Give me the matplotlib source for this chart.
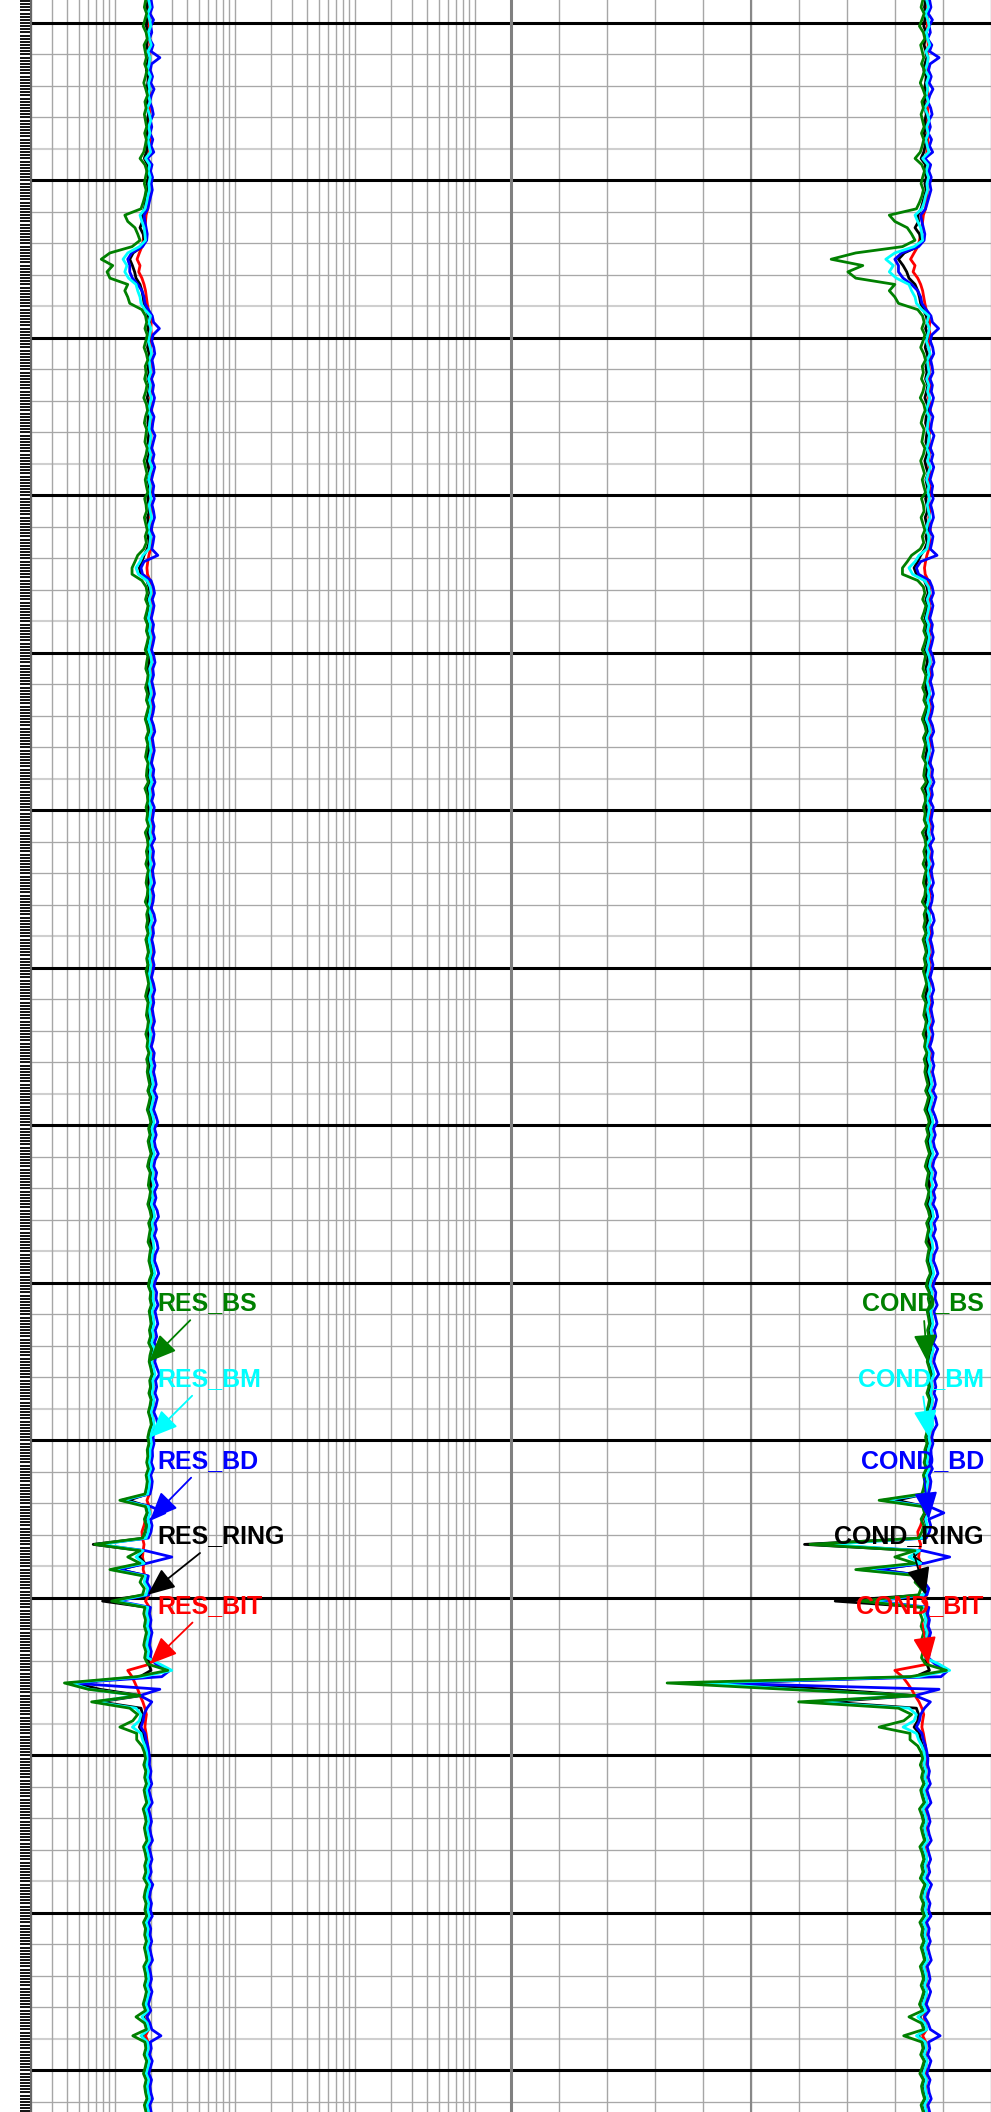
import numpy as np
import matplotlib
matplotlib.use("Agg")
import matplotlib.pyplot as plt
from matplotlib import font_manager
from matplotlib.ticker import LogLocator, NullFormatter

# depth samples, every 2 units
depth = np.arange(993, 1665, 2)

res_bs = np.array([
    180, 176, 184, 178, 172, 182, 186, 175, 179, 183,
    177, 185, 180, 174, 181, 187, 178, 182, 176, 180,
    184, 177, 183, 179, 174, 162, 178, 185, 180, 176,
    182, 178, 172, 165, 121, 128, 147, 155, 162, 139,
    91, 77, 96, 86, 91, 128, 121, 128, 133, 168,
    180, 184, 178, 186, 181, 175, 183, 188, 179, 182,
    177, 185, 181, 174, 183, 187, 180, 176, 184, 181,
    178, 186, 182, 175, 180, 185, 179, 183, 188, 177,
    182, 184, 176, 181, 186, 179, 183, 174, 155, 147,
    139, 139, 168, 182, 186, 180, 189, 184, 178, 187,
    183, 190, 185, 179, 188, 184, 181, 189, 186, 180,
    187, 183, 191, 185, 179, 186, 190, 182, 188, 184,
    180, 189, 185, 183, 190, 178, 186, 188, 182, 187,
    184, 191, 179, 186, 189, 183, 187, 181, 190, 185,
    182, 188, 186, 179, 190, 184, 187, 183, 189, 181,
    186, 190, 184, 188, 182, 187, 191, 185, 180, 189,
    186, 183, 190, 187, 181, 188, 185, 192, 184, 189,
    186, 190, 195, 188, 197, 192, 186, 194, 199, 191,
    196, 189, 194, 200, 192, 187, 197, 193, 190, 198,
    194, 188, 196, 201, 191, 197, 193, 189, 199, 195,
    192, 198, 203, 194, 190, 199, 196, 201, 193, 197,
    200, 194, 198, 191, 202, 196, 193, 199, 204, 195,
    198, 192, 200, 196, 190, 197, 201, 193, 188, 192,
    186, 188, 184, 190, 182, 186, 183, 178, 110, 180,
    185, 176, 183, 178, 170, 68, 162, 128, 162, 91,
    171, 162, 176, 170, 94, 178, 174, 180, 176, 183,
    178, 174, 181, 177, 188, 276, 152, 38, 60, 162,
    64, 133, 155, 141, 110, 152, 152, 168, 176, 180,
    174, 181, 177, 183, 175, 179, 184, 172, 178, 182,
    176, 180, 185, 173, 179, 183, 177, 181, 174, 186,
    179, 175, 182, 178, 184, 173, 180, 177, 183, 176,
    181, 185, 174, 179, 182, 176, 183, 178, 172, 180,
    150, 177, 183, 141, 178, 181, 175, 184, 179, 173,
    182, 177, 180, 185, 176, 181]) / 100

res_bm = np.array([
    192, 197, 188, 195, 199, 190, 194, 201, 189, 196,
    193, 187, 198, 191, 195, 190, 197, 186, 194, 199,
    191, 196, 189, 193, 198, 180, 195, 190, 197, 192,
    194, 188, 184, 178, 162, 168, 175, 178, 180, 160,
    128, 117, 126, 121, 130, 150, 155, 162, 165, 178,
    198, 192, 200, 195, 190, 197, 202, 193, 196, 199,
    191, 198, 194, 201, 196, 190, 199, 195, 193, 200,
    197, 192, 199, 194, 203, 196, 191, 198, 195, 200,
    193, 197, 202, 194, 190, 199, 196, 192, 171, 162,
    150, 157, 185, 197, 201, 193, 199, 195, 190, 198,
    194, 200, 196, 191, 199, 203, 195, 198, 192, 197,
    201, 194, 199, 196, 190, 198, 202, 193, 197, 200,
    195, 191, 199, 196, 203, 194, 198, 192, 200, 197,
    193, 199, 196, 202, 191, 198, 195, 200, 194, 197,
    201, 193, 198, 196, 190, 199, 203, 195, 198, 192,
    197, 200, 194, 199, 196, 191, 198, 202, 195, 199,
    193, 197, 201, 194, 199, 196, 190, 200, 197, 203,
    198, 204, 208, 200, 210, 205, 199, 207, 212, 203,
    208, 202, 206, 213, 204, 200, 209, 205, 211, 203,
    207, 201, 210, 214, 204, 208, 202, 209, 212, 205,
    203, 210, 215, 206, 201, 209, 207, 213, 204, 208,
    212, 205, 209, 202, 214, 207, 203, 210, 216, 206,
    209, 204, 211, 207, 200, 208, 212, 203, 198, 202,
    196, 196, 192, 199, 190, 195, 192, 188, 115, 190,
    196, 188, 193, 190, 182, 75, 172, 150, 175, 94,
    180, 175, 188, 182, 100, 188, 184, 190, 186, 193,
    188, 184, 191, 187, 237, 298, 170, 42, 62, 155,
    68, 150, 165, 160, 140, 165, 170, 178, 184, 186,
    184, 190, 186, 192, 183, 188, 193, 181, 187, 191,
    185, 189, 194, 182, 188, 192, 186, 190, 183, 195,
    188, 184, 191, 187, 193, 182, 189, 186, 192, 185,
    190, 194, 183, 188, 191, 185, 192, 187, 181, 189,
    168, 186, 192, 165, 187, 190, 184, 193, 188, 182,
    191, 186, 189, 194, 185, 190]) / 100

res_bd = np.array([
    201, 205, 196, 210, 199, 203, 194, 208, 200, 237,
    202, 197, 206, 199, 212, 201, 195, 204, 209, 198,
    203, 196, 207, 200, 211, 186, 204, 198, 206, 201,
    205, 199, 193, 188, 175, 178, 182, 186, 184, 170,
    138, 128, 133, 133, 140, 155, 168, 175, 178, 190,
    205, 210, 235, 208, 203, 211, 215, 204, 209, 212,
    202, 210, 206, 214, 208, 201, 212, 207, 204, 216,
    209, 203, 212, 206, 215, 208, 202, 211, 207, 213,
    204, 210, 214, 206, 201, 212, 208, 203, 228, 175,
    165, 170, 200, 209, 214, 205, 212, 207, 201, 210,
    206, 213, 208, 202, 211, 216, 207, 210, 203, 209,
    214, 206, 212, 208, 201, 210, 215, 205, 209, 213,
    207, 202, 211, 208, 216, 206, 210, 203, 213, 209,
    205, 212, 208, 215, 202, 210, 207, 213, 206, 209,
    214, 205, 211, 208, 201, 212, 217, 207, 210, 203,
    209, 213, 206, 212, 208, 202, 210, 215, 207, 211,
    205, 209, 214, 206, 212, 208, 201, 213, 209, 216,
    210, 216, 221, 212, 224, 217, 210, 220, 228, 214,
    221, 213, 218, 230, 216, 211, 223, 217, 226, 214,
    220, 212, 225, 231, 216, 222, 213, 224, 229, 217,
    214, 224, 232, 219, 212, 223, 220, 229, 216, 222,
    228, 217, 223, 213, 231, 220, 215, 224, 235, 218,
    223, 216, 226, 220, 211, 222, 228, 214, 208, 212,
    205, 206, 201, 210, 199, 205, 202, 196, 114, 200,
    261, 198, 204, 200, 190, 71, 180, 298, 185, 106,
    190, 185, 198, 192, 106, 198, 194, 200, 196, 204,
    198, 194, 201, 197, 220, 287, 246, 44, 237, 162,
    203, 185, 175, 172, 165, 178, 182, 188, 192, 195,
    194, 200, 196, 203, 192, 198, 205, 191, 197, 202,
    195, 199, 206, 193, 198, 204, 196, 201, 192, 207,
    198, 194, 202, 197, 205, 191, 199, 196, 203, 195,
    200, 206, 193, 198, 202, 195, 204, 197, 190, 199,
    185, 196, 203, 242, 197, 201, 194, 205, 198, 192,
    202, 196, 199, 206, 195, 200]) / 100

res_ring = np.array([
    188, 185, 191, 186, 183, 190, 187, 184, 189, 192,
    186, 183, 190, 188, 185, 191, 184, 187, 190, 186,
    189, 184, 191, 187, 183, 176, 188, 185, 190, 186,
    190, 185, 180, 176, 168, 170, 162, 172, 176, 168,
    142, 133, 140, 146, 150, 162, 168, 172, 175, 182,
    190, 194, 188, 195, 191, 187, 193, 196, 189, 192,
    188, 195, 191, 186, 193, 197, 190, 188, 194, 191,
    189, 195, 192, 186, 190, 196, 189, 193, 197, 188,
    192, 194, 187, 191, 196, 189, 193, 186, 175, 168,
    160, 165, 185, 192, 196, 189, 195, 191, 187, 194,
    190, 196, 192, 187, 195, 193, 189, 197, 191, 188,
    194, 191, 197, 190, 186, 193, 196, 189, 195, 192,
    188, 196, 192, 190, 197, 187, 193, 195, 189, 194,
    191, 197, 188, 193, 196, 190, 194, 189, 197, 192,
    189, 195, 193, 187, 196, 191, 194, 190, 196, 188,
    193, 197, 191, 195, 189, 194, 198, 192, 188, 196,
    193, 190, 197, 194, 188, 195, 192, 198, 191, 196,
    193, 197, 202, 195, 204, 199, 193, 201, 206, 198,
    203, 196, 200, 207, 199, 194, 204, 200, 197, 205,
    201, 195, 203, 208, 198, 204, 200, 196, 206, 202,
    199, 205, 209, 201, 197, 206, 203, 207, 200, 204,
    207, 201, 205, 198, 209, 203, 200, 206, 210, 202,
    205, 199, 207, 203, 197, 204, 208, 200, 195, 199,
    193, 194, 190, 197, 188, 193, 190, 186, 130, 188,
    194, 186, 191, 188, 180, 66, 170, 160, 178, 110,
    184, 178, 190, 188, 79, 188, 186, 190, 186, 192,
    188, 185, 191, 187, 192, 200, 162, 46, 75, 165,
    75, 165, 170, 168, 160, 172, 175, 180, 184, 186,
    183, 188, 185, 190, 182, 186, 191, 181, 185, 189,
    184, 187, 192, 181, 186, 190, 184, 188, 182, 191,
    186, 183, 189, 185, 191, 181, 187, 184, 190, 183,
    188, 192, 182, 186, 189, 184, 190, 185, 180, 187,
    172, 184, 190, 168, 185, 188, 183, 191, 186, 181,
    189, 184, 187, 192, 183, 188]) / 100

res_bit = np.array([
    193, 194, 192, 195, 193, 191, 194, 196, 193, 195,
    194, 192, 195, 193, 194, 196, 192, 194, 195, 193,
    194, 192, 195, 194, 192, 188, 193, 195, 194, 192,
    194, 192, 190, 188, 182, 180, 178, 175, 172, 168,
    160, 153, 162, 158, 168, 175, 180, 183, 186, 190,
    198, 201, 199, 202, 200, 198, 201, 203, 199, 200,
    198, 202, 200, 197, 201, 203, 199, 198, 202, 200,
    199, 202, 200, 197, 199, 203, 199, 201, 202, 198,
    200, 202, 198, 200, 203, 199, 201, 198, 192, 188,
    185, 187, 196, 200, 202, 199, 201, 200, 197, 201,
    199, 202, 200, 198, 201, 203, 199, 202, 200, 198,
    201, 199, 203, 200, 197, 201, 203, 199, 202, 200,
    198, 202, 200, 199, 203, 197, 201, 202, 199, 201,
    200, 203, 198, 201, 202, 199, 201, 198, 203, 200,
    199, 202, 201, 198, 202, 200, 201, 199, 202, 198,
    201, 203, 199, 202, 199, 201, 203, 200, 198, 202,
    201, 199, 203, 201, 198, 202, 200, 204, 199, 202,
    201, 204, 208, 203, 209, 206, 202, 207, 210, 205,
    208, 204, 206, 211, 205, 203, 209, 206, 204, 210,
    207, 203, 209, 212, 205, 208, 206, 203, 210, 207,
    205, 209, 212, 207, 204, 209, 207, 211, 205, 208,
    210, 206, 209, 204, 211, 208, 205, 209, 212, 207,
    209, 205, 210, 208, 204, 208, 210, 205, 201, 203,
    199, 200, 197, 201, 196, 199, 197, 194, 185, 193,
    196, 180, 175, 168, 170, 175, 172, 170, 174, 172,
    178, 182, 188, 192, 180, 194, 192, 194, 192, 196,
    193, 191, 195, 193, 196, 128, 139, 147, 155, 162,
    171, 178, 183, 180, 178, 182, 185, 188, 190, 192,
    187, 190, 188, 191, 186, 189, 192, 187, 189, 191,
    188, 190, 193, 186, 189, 191, 188, 190, 187, 192,
    189, 187, 191, 188, 192, 186, 190, 188, 191, 187,
    190, 193, 186, 189, 191, 188, 191, 189, 185, 190,
    184, 188, 191, 180, 189, 190, 187, 192, 189, 186,
    191, 188, 190, 193, 187, 190]) / 100

curve_names = ["BIT", "RING", "BD", "BM", "BS"]
curve_colors = ["red", "black", "blue", "cyan", "green"]
curve_values = [res_bit, res_ring, res_bd, res_bm, res_bs]
# depth at which each curve is labelled
label_depths = [1521, 1499, 1475, 1449, 1425]

for v in curve_values:
    assert len(v) == len(depth)

# label font: narrow bold if available
try:
    font_manager.findfont("Liberation Sans Narrow", fallback_to_default=False)
    label_font = "Liberation Sans Narrow"
    label_size = 20.5
except ValueError:
    label_font = "Liberation Sans"
    label_size = 18

W, H = 991, 2112
fig = plt.figure(figsize=(W / 100, H / 100), dpi=100)
ax1 = fig.add_axes([31 / W, 0, 480 / W, 1])    # resistivity, log
ax2 = fig.add_axes([511 / W, 0, 480 / W, 1])   # conductivity, linear reversed

top, bottom = 992.7, 1663.2

for ax in (ax1, ax2):
    ax.set_ylim(bottom, top)
    ax.set_axisbelow(True)
    # depth grid: thin every 10, thick every 50
    for d in np.arange(1000, 1663, 10):
        if d % 50 == 0:
            ax.axhline(d, color="black", lw=2.2, zorder=1)
        elif d % 50 == 40:
            ax.axhline(d, color="#cfcfcf", lw=1.5, zorder=0.5)
        else:
            ax.axhline(d, color="#a8a8a8", lw=0.95, zorder=0.5)

# resistivity track
ax1.set_xscale("log")
ax1.set_xlim(0.2, 2000)
ax1.xaxis.set_major_locator(LogLocator(base=10, numticks=10))
ax1.xaxis.set_minor_locator(LogLocator(base=10, subs=np.arange(2, 10), numticks=50))
ax1.xaxis.set_minor_formatter(NullFormatter())
ax1.grid(True, which="both", axis="x", color="#a6a6a6", lw=1.0, zorder=0.5)
ax1.tick_params(axis="x", which="both", length=0, labelbottom=False)
ax1.set_yticks(np.arange(993, 1664, 1))
ax1.tick_params(axis="y", length=8, width=1.4, color="#111111", labelleft=False)
for s in ["top", "bottom", "right"]:
    ax1.spines[s].set_visible(False)
ax1.spines["left"].set_color("#666666")
ax1.spines["left"].set_linewidth(1.5)

# conductivity track
ax2.set_xlim(3900, 0)
ax2.set_xticks(np.linspace(0, 3900, 11))
ax2.grid(True, axis="x", color="#a6a6a6", lw=1.0, zorder=0.5)
ax2.axvline(1950, color="#888888", lw=1.5, zorder=0.6)
ax2.tick_params(axis="both", length=0, labelbottom=False, labelleft=False)
for s in ["top", "bottom", "right"]:
    ax2.spines[s].set_visible(False)
ax2.spines["left"].set_color("#808080")
ax2.spines["left"].set_linewidth(2.2)
ax2.spines["left"].set_zorder(3)

# curves
for name, color, vals in zip(curve_names, curve_colors, curve_values):
    ax1.plot(vals, depth, color=color, lw=2.0, zorder=2)
    ax2.plot(1000 / vals, depth, color=color, lw=2.0, zorder=2)

# labels with arrows
arrow = "-|>,head_length=0.7,head_width=0.3"
for name, color, vals, d in zip(curve_names, curve_colors, curve_values, label_depths):
    k = np.argmin(np.abs(depth - d))
    ax1.annotate("RES_" + name, xy=(vals[k], depth[k]), xytext=(0.2625, depth[k] - 18.5),
                 textcoords=("axes fraction", "data"), color=color, fontsize=label_size,
                 fontweight="bold", family=label_font, ha="left", va="center", zorder=5,
                 arrowprops=dict(arrowstyle=arrow, color=color, lw=1.3, shrinkA=2, shrinkB=0,
                                 mutation_scale=24))
    ax2.annotate("COND_" + name, xy=(1000 / vals[k], depth[k]), xytext=(0.985, depth[k] - 18.5),
                 textcoords=("axes fraction", "data"), color=color, fontsize=label_size,
                 fontweight="bold", family=label_font, ha="right", va="center", zorder=5,
                 arrowprops=dict(arrowstyle=arrow, color=color, lw=1.3, shrinkA=2, shrinkB=0,
                                 mutation_scale=24))

fig.savefig("out.png", dpi=100)
